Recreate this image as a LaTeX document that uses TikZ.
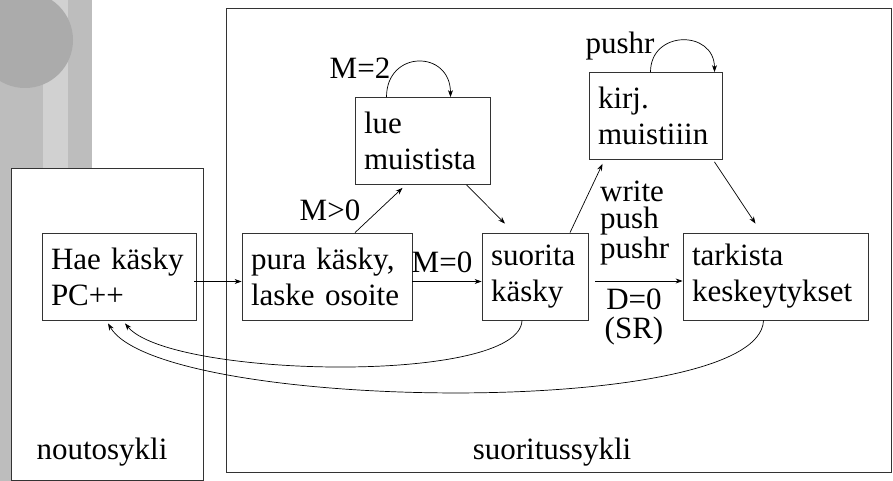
\documentclass[tikz,border=0pt]{standalone}
\usepackage{fontspec}
\setmainfont{Liberation Serif}
\usetikzlibrary{arrows.meta}
\tikzset{
	vaihe/.style={draw=black!80, line width=0.8pt, align=left, inner xsep=9pt, inner ysep=0pt,
		minimum height=87pt, text width=#1, font=\fontsize{31}{36}\selectfont},
	nuoli/.style={-{Stealth[length=7pt,width=5pt]}, line width=0.7pt},
	teksti/.style={inner sep=0pt, font=\fontsize{31}{27}\selectfont},
	kehys/.style={draw=black!80, line width=0.8pt},
}
\begin{document}
\begin{tikzpicture}[x=1pt, y=-1pt]
		%%%%% START %%%%%
		\useasboundingbox (0,0) rectangle (893,481);
		
		% tausta
		\begin{scope}
			\clip (0,0) rectangle (92,168);
			\fill[black!26] (0,0) rectangle (92,168);
			\fill[black!18] (43,0) rectangle (68,168);
			\fill[black!33] (25,40) circle (48);
		\end{scope}
		\fill[black!26] (0,168) rectangle (11,481);
		
		\draw[kehys] (11,168) rectangle (203,480);
		\draw[kehys, fill=white] (226,8) rectangle (891,472);
		\fill[white] (12,169) rectangle (202,479);
		
		\node[teksti] (nouto) at (102,452) {noutosykli};
		\node[teksti] (suoritus) at (552,452) {suoritussykli};
		
		\node[vaihe=136pt] (hae) at (119,276.5) {Hae käsky\\PC++};
		\node[vaihe=152pt] (pura) at (327,276.5) {pura käsky,\\laske osoite};
		\node[vaihe=117pt] (lue) at (422.5,141) {lue\\muistista};
		\node[vaihe=88pt] (suor) at (535,276.5) {suorita\\käsky};
		\node[vaihe=115pt] (kirj) at (655.5,116) {kirj.\\muistiiin};
		\node[vaihe=167pt] (tark) at (775.5,276.5) {tarkista\\keskeytykset};
		
		\node[teksti] (m2) at (360,68) {M=2};
		\node[teksti] (pushr) at (620,46) {pushr};
		\node[teksti] (mgt) at (330,210) {M>0};
		\node[teksti] (m0) at (442,262) {M=0};
		\node[teksti, align=left, anchor=west] (kirjoitus) at (600,223) {write\\push\\pushr};
		\node[teksti, align=center, font=\fontsize{31}{29}\selectfont] (dnolla) at (634,317) {D=0\\(SR)};
		
		\draw[nuoli] ([xshift=-2pt,yshift=-5pt]hae.east) -- ([yshift=-5pt]pura.west);
		\draw[nuoli] ([yshift=-5pt]pura.east) -- ([yshift=-5pt]suor.west);
		\draw[nuoli] ([xshift=28pt]pura.north) -- ([xshift=-20pt,yshift=-3pt]lue.south);
		\draw[nuoli] ([xshift=44pt]lue.south) -- ([xshift=-30pt,yshift=9pt]suor.north);
		\draw[nuoli] ([xshift=35pt]suor.north) -- ([xshift=-53pt,yshift=-4pt]kirj.south);
		\draw[nuoli] ([xshift=59pt,yshift=-2pt]kirj.south) -- ([xshift=-20pt,yshift=9pt]tark.north);
		\draw[nuoli] ([xshift=7pt,yshift=-4.5pt]suor.east) -- ([yshift=-4.5pt]tark.west);
		
		\draw[nuoli] ([xshift=-36pt]lue.north) to[out=90, in=90, looseness=1.9] ([xshift=28pt]lue.north);
		\draw[nuoli] ([xshift=-5pt]kirj.north) to[out=90, in=90, looseness=1.7] ([xshift=59pt]kirj.north);
		
		\draw[nuoli] ([xshift=-13pt]suor.south) .. controls (520,385) and (170,378) .. ([xshift=6pt,yshift=-3pt]hae.south);
		\draw[nuoli] ([xshift=-12pt]tark.south) .. controls (760,420) and (160,412) .. ([xshift=-11pt,yshift=-3pt]hae.south);
		%%%%% END %%%%%
\end{tikzpicture}
\end{document}
